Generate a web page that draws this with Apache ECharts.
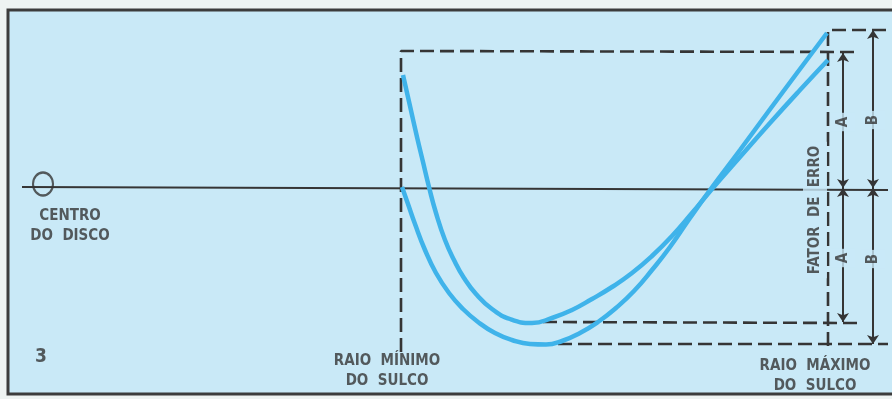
<!DOCTYPE html>
<html>
<head>
<meta charset="utf-8">
<script src="https://cdn.jsdelivr.net/npm/echarts@6/dist/echarts.min.js"></script>
<style>
html,body{margin:0;padding:0;background:#eef3f2;}
#c{width:892px;height:399px;}
</style>
</head>
<body>
<div id="c"></div>
<script>
// ---- data (diagram units: x = radius position, y = vertical position, 0 at top) ----
const referenceAxis = [[22,187],[888,190]];
const discCentre = [[43,184]];
// curve that starts above the axis at the minimum radius
const curveUpper = [[403,75],[410,106],[417,137],[423,162],[429,187],[436,213],[445,240],[454,260],[464,278],[476,294],[492,309],[510,319],[532,323],[552,318],[572,310],[592,299],[612,287],[632,273],[652,256],[672,236],[692,213],[712,189],[740,157],[770,123],[800,90],[828,60]];
// curve that starts on the axis at the minimum radius
const curveLower = [[402,187],[408,204],[415,224],[425,250],[436,273],[449,293],[463,309],[478,322],[495,333],[512,340],[530,344],[546,344.5],[562,341],[580,333],[598,322],[616,308],[634,291],[652,270],[670,247],[690,218],[710,190],[740,150],[768,112],[797,73],[827,33]];
// dashed reference lines
const minRadiusFrame = [[401,352],[401,51],[855,52]];
const maxRadiusFrame = [[828,346],[828,30],[888,30]];
const minErrorA = [[543,322],[857,323]];
const minErrorB = [[558,344],[888,344]];
// dimension arrows
const dimA = [[[843,53],[843,188]],[[843,188],[843,322]]];
const dimB = [[[873,30],[873,188]],[[873,188],[873,344]]];
// text annotations
const texts = [
  {pos:[70,226], text:'CENTRO\nDO  DISCO', rot:0},
  {pos:[41,357], text:'3', rot:0, big:true},
  {pos:[387,371], text:'RAIO  MÍNIMO\nDO  SULCO', rot:0},
  {pos:[815,376], text:'RAIO  MÁXIMO\nDO  SULCO', rot:0},
  {pos:[815,210], text:'FATOR  DE  ERRO', rot:90, gap:true},
  {pos:[843,122], text:'A', rot:90, gap:true},
  {pos:[843,258], text:'A', rot:90, gap:true},
  {pos:[873,120], text:'B', rot:90, gap:true},
  {pos:[873,259], text:'B', rot:90, gap:true}
];

const BG = '#c9e9f7';
const INK = '#353535';
const BLUE = '#3fb3ea';
const FONT = "'DejaVu Sans Condensed', 'Liberation Sans Narrow', Arial, sans-serif";

const chart = echarts.init(document.getElementById('c'), null, {renderer:'canvas'});

function dashed(data){
  return {type:'line', data:data, symbol:'none', silent:true, z:3,
    lineStyle:{color:INK, width:2.6, type:[14,6]}};
}

const option = {
  backgroundColor:'#eef3f2',
  animation:false,
  grid:{left:0,top:0,right:0,bottom:0},
  xAxis:{type:'value',min:0,max:892,show:false},
  yAxis:{type:'value',min:0,max:399,inverse:true,show:false},
  graphic:[{type:'rect', z:-10, shape:{x:8,y:10,width:900,height:384},
    style:{fill:BG, stroke:'#3c3c3c', lineWidth:3}}],
  series:[
    {type:'line', data:referenceAxis, symbol:'none', z:3, lineStyle:{color:INK,width:2.2}},
    {type:'scatter', data:discCentre, symbol:'circle', symbolSize:[20,23], z:4,
      itemStyle:{color:'rgba(0,0,0,0)', borderColor:INK, borderWidth:2.2}},
    dashed(minRadiusFrame), dashed(maxRadiusFrame), dashed(minErrorA), dashed(minErrorB),
    {type:'lines', coordinateSystem:'cartesian2d', z:3, symbol:['arrow','arrow'], symbolSize:9,
      lineStyle:{color:INK,width:2,opacity:1},
      data:dimA.concat(dimB).map(c=>({coords:c}))},
    {type:'line', data:curveUpper, symbol:'none', smooth:0.5, z:5, lineStyle:{color:BLUE,width:4.5}},
    {type:'line', data:curveLower, symbol:'none', smooth:0.5, z:5, lineStyle:{color:BLUE,width:4.5}},
    {type:'scatter', symbolSize:0, z:6,
      data:texts.map(t=>({value:t.pos,
        label:{show:true, position:'inside', formatter:t.text, rotate:t.rot,
          fontFamily:FONT, fontWeight:'bold', fontSize:t.big?19:15, color:INK, lineHeight:20, align:'center',
          backgroundColor:t.gap?BG:'transparent', padding:t.gap?[2,4]:0}}))}
  ]
};
chart.setOption(option);
</script>
</body>
</html>
